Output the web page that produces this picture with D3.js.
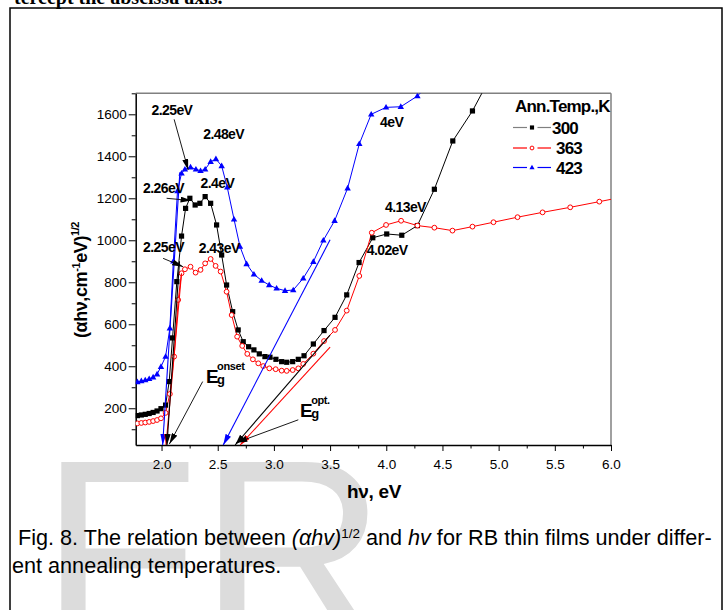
<!DOCTYPE html>
<html><head><meta charset="utf-8">
<script src="https://cdn.jsdelivr.net/npm/d3@7"></script>
<style>body{margin:0;background:#fff} svg{display:block}</style>
</head><body>
<svg id="c" width="726" height="610"></svg>
<script>
// ---------- data ----------
const hv300 = [1.785,1.82,1.855,1.89,1.925,1.96,1.995,2.036,2.068,2.098,2.136,2.178,2.214,2.252,2.299,2.341,2.388,2.437,2.49,2.535,2.579,2.633,2.682,2.727,2.775,2.822,2.87,2.92,2.965,3.018,3.069,3.114,3.167,3.217,3.268,3.351,3.446,3.544,3.648,3.758,3.88,4.004,4.138,4.277,4.428,4.592,4.767,4.94,5.10];
const val300 = [165,168,171,175,180,187,198,215,327,535,803,1020,1152,1200,1168,1176,1208,1176,1073,930,787,660,573,517,493,478,459,446,443,433,422,419,422,433,450,506,570,633,740,894,1012,1030,1024,1070,1243,1473,1616,1790,1960];
const hv363 = [1.785,1.82,1.855,1.89,1.925,1.96,1.995,2.036,2.074,2.112,2.148,2.178,2.208,2.258,2.303,2.347,2.388,2.437,2.481,2.526,2.579,2.624,2.673,2.718,2.763,2.813,2.861,2.905,2.959,3.016,3.069,3.114,3.167,3.217,3.261,3.351,3.446,3.544,3.648,3.76,3.871,3.998,4.132,4.277,4.428,4.589,4.767,4.954,5.168,5.391,5.637,5.896,6.16];
const val363 = [128,130,132,135,139,144,152,178,268,446,716,843,862,874,846,859,890,911,878,851,755,644,541,497,459,433,414,401,390,386,379,378,382,390,411,460,520,573,665,830,1036,1073,1093,1070,1060,1046,1065,1086,1110,1133,1157,1184,1212];
const hv423 = [1.785,1.82,1.855,1.89,1.925,1.96,1.995,2.036,2.074,2.105,2.142,2.178,2.208,2.258,2.306,2.347,2.388,2.437,2.484,2.535,2.585,2.645,2.698,2.757,2.822,2.891,2.958,3.024,3.099,3.172,3.261,3.351,3.44,3.54,3.656,3.76,3.866,3.998,4.129,4.277,4.43];
const val423 = [325,330,334,340,348,362,398,446,581,900,1235,1319,1338,1348,1338,1331,1338,1374,1387,1354,1252,1100,970,887,838,808,787,771,760,763,819,898,1000,1093,1248,1459,1600,1633,1636,1687,1770];

const seriesNames = ["300","363","423"];
const xTickValues = [2.0,2.5,3.0,3.5,4.0,4.5,5.0,5.5,6.0];
const xMinorValues = [2.25,2.75,3.25,3.75,4.25,4.75,5.25,5.75];
const yTickValues = [200,400,600,800,1000,1200,1400,1600];
const yMinorValues = [100,300,500,700,900,1100,1300,1500,1700];

// extrapolation (tangent) lines, in data units
const tangentSeries = ["423","363","300","423","300","363"];
const tangentFromHv  = [2.163, 2.178, 2.16, 3.50, 3.50, 3.50];
const tangentFromVal = [1324, 843, 900, 1002, 548, 491];
const tangentToHv    = [2.01, 2.04, 2.048, 2.549, 2.655, 2.70];
const tangentToVal   = [25, 25, 25, 25, 25, 25];

// annotation pointers
const annFromHv  = [2.112, 2.045, 2.014, 2.366, 3.217];
const annFromVal = [1576, 1200, 914, 327, 145];
const annToHv    = [2.237, 2.267, 2.192, 2.07, 2.665];
const annToVal   = [1335, 1189, 874, 30, 36];

const peakLabels   = ["2.25eV","2.48eV","2.26eV","2.4eV","2.25eV","2.43eV","4eV","4.13eV","4.02eV"];
const peakLabelHv  = [1.911, 2.371, 1.836, 2.347, 1.836, 2.332, 3.945, 3.989, 3.826];
const peakLabelVal = [1597, 1482, 1224, 1248, 946, 938, 1538, 1136, 930];

// ---------- layout ----------
const svg = d3.select("#c");
const FONT = "'Liberation Sans', Arial, Helvetica, sans-serif";
const pLeft = 135.7, pRight = 611, pTop = 93.3, pBottom = 445;
const x = d3.scaleLinear().domain([1.77, 6.0]).range([pLeft, pRight]);
const y = d3.scaleLinear().domain([25, 1700]).range([pBottom, pTop]);
const colors = {"300":"#000000","363":"#ff0000","423":"#0000ff"};

svg.append("rect").attr("width",726).attr("height",610).attr("fill","#fff");

// watermark
svg.append("text").attr("x",40).attr("y",641).attr("font-family",FONT)
  .attr("font-size",260).attr("fill","#dcdcdc").text("FR");

// top running text (cut)
svg.append("text").attr("x",14).attr("y",4).attr("font-family","'Liberation Serif','Times New Roman',serif")
  .attr("font-weight","bold").attr("font-size",20).attr("fill","#000").text("tercept the abscissa axis.");

// document border
svg.append("rect").attr("x",10).attr("y",8).attr("width",712).attr("height",640)
  .attr("fill","none").attr("stroke","#000").attr("stroke-width",1.5);

// defs: clip & arrow markers
const defs = svg.append("defs");
defs.append("clipPath").attr("id","plotclip").append("rect")
  .attr("x",pLeft).attr("y",pTop).attr("width",pRight-pLeft).attr("height",pBottom-pTop);
function arrowMarker(id, col){
  defs.append("marker").attr("id",id).attr("markerUnits","userSpaceOnUse")
    .attr("viewBox","0 0 11 6").attr("refX",11).attr("refY",3)
    .attr("markerWidth",11).attr("markerHeight",6).attr("orient","auto")
    .append("path").attr("d","M0,0 L11,3 L0,6 Z").attr("fill",col);
}
arrowMarker("arr300","#000"); arrowMarker("arr363","#ff0000"); arrowMarker("arr423","#0000ff");
arrowMarker("arrAnn","#000");

// frame top/right (gray)
svg.append("line").attr("x1",pLeft).attr("x2",pRight).attr("y1",pTop).attr("y2",pTop).attr("stroke","#808080").attr("stroke-width",1.5);
svg.append("line").attr("x1",pRight).attr("x2",pRight).attr("y1",pTop).attr("y2",pBottom).attr("stroke","#808080").attr("stroke-width",1.5);

// axes
function styleAxis(g){
  g.selectAll("path.domain").attr("stroke","#000").attr("stroke-width",1.5);
  g.selectAll(".tick line").attr("stroke","#000").attr("stroke-width",1);
  g.selectAll(".tick text").attr("font-family",FONT).attr("font-size",13.5).attr("fill","#000");
}
const gx = svg.append("g").attr("transform",`translate(0,${pBottom})`)
  .call(d3.axisBottom(x).tickValues(xTickValues).tickSize(6).tickPadding(8).tickFormat(d3.format(".1f")).tickSizeOuter(0));
styleAxis(gx);
const gxm = svg.append("g").attr("transform",`translate(0,${pBottom})`)
  .call(d3.axisBottom(x).tickValues(xMinorValues).tickSize(3.5).tickFormat(""));
gxm.select("path.domain").remove(); gxm.selectAll(".tick text").remove(); styleAxis(gxm);
const gy = svg.append("g").attr("transform",`translate(${pLeft},0)`)
  .call(d3.axisLeft(y).tickValues(yTickValues).tickSize(7).tickPadding(2).tickFormat(d3.format("d")).tickSizeOuter(0));
styleAxis(gy);
const gym = svg.append("g").attr("transform",`translate(${pLeft},0)`)
  .call(d3.axisLeft(y).tickValues(yMinorValues).tickSize(4).tickFormat(""));
gym.select("path.domain").remove(); gym.selectAll(".tick text").remove(); styleAxis(gym);

// axis titles
svg.append("text").attr("x",374).attr("y",498).attr("text-anchor","middle").attr("font-family",FONT)
  .attr("font-weight","bold").attr("font-size",19).attr("letter-spacing",-0.3).text("hν, eV");
const yl = svg.append("text").attr("transform","translate(87,280) rotate(-90)").attr("text-anchor","middle")
  .attr("font-family",FONT).attr("font-weight","bold").attr("font-size",18).attr("letter-spacing",-0.4);
yl.append("tspan").text("(αhν,cm");
yl.append("tspan").attr("font-size",11).attr("dy",-7).text("-1");
yl.append("tspan").attr("dy",7).text("eV)");
yl.append("tspan").attr("font-size",11).attr("dy",-8).text("1/2");

// plot content
const plot = svg.append("g").attr("clip-path","url(#plotclip)");
const line = d3.line().x(d=>x(d[0])).y(d=>y(d[1]));
const seriesData = {
  "300": hv300.map((h,i)=>[h,val300[i]]),
  "363": hv363.map((h,i)=>[h,val363[i]]),
  "423": hv423.map((h,i)=>[h,val423[i]])
};

// tangent lines
tangentSeries.forEach((s,i)=>{
  svg.append("line")
    .attr("x1",x(tangentFromHv[i])).attr("y1",y(tangentFromVal[i]))
    .attr("x2",x(tangentToHv[i])).attr("y2",y(tangentToVal[i]))
    .attr("stroke",colors[s]).attr("stroke-width",1.1)
    .attr("marker-end",`url(#arr${s})`);
});

function drawMarker(g, s, cx, cy, scale){
  const k = scale||1;
  if(s==="300"){
    g.append("rect").attr("x",cx-2.6*k).attr("y",cy-2.6*k).attr("width",5.2*k).attr("height",5.2*k).attr("fill","#000");
  } else if(s==="363"){
    g.append("circle").attr("cx",cx).attr("cy",cy).attr("r",2.4*k).attr("fill","#fff").attr("stroke","#ff0000").attr("stroke-width",1);
  } else {
    const r = 3.4*k;
    g.append("path").attr("d",`M${cx},${cy-r} L${cx+r*0.95},${cy+r*0.65} L${cx-r*0.95},${cy+r*0.65} Z`).attr("fill","#0000ff");
  }
}

seriesNames.forEach(s=>{
  plot.append("path").datum(seriesData[s]).attr("d",line).attr("fill","none")
    .attr("stroke",colors[s]).attr("stroke-width",1);
});
seriesNames.forEach(s=>{
  const g = plot.append("g");
  seriesData[s].forEach(d=>drawMarker(g,s,x(d[0]),y(d[1])));
});

// annotation pointers
annFromHv.forEach((h,i)=>{
  svg.append("line").attr("x1",x(h)).attr("y1",y(annFromVal[i]))
    .attr("x2",x(annToHv[i])).attr("y2",y(annToVal[i]))
    .attr("stroke","#000").attr("stroke-width",0.9).attr("marker-end","url(#arrAnn)");
});

// peak labels
peakLabels.forEach((t,i)=>{
  svg.append("text").attr("x",x(peakLabelHv[i])).attr("y",y(peakLabelVal[i]))
    .attr("font-family",FONT).attr("font-weight","bold").attr("font-size",14)
    .attr("letter-spacing",-0.6).attr("fill","#000").text(t);
});

// E_g labels
function egLabel(hv, val, sup){
  const px = x(hv), py = y(val);
  const e = svg.append("text").attr("x",px).attr("y",py).attr("font-family",FONT).attr("font-weight","bold")
    .attr("font-size",19).attr("letter-spacing",-0.5).text("E");
  const w = e.node().getComputedTextLength();
  svg.append("text").attr("x",px+w-1).attr("y",py-13).attr("font-family",FONT).attr("font-weight","bold")
    .attr("font-size",11).attr("letter-spacing",-0.4).text(sup);
  svg.append("text").attr("x",px+w-1).attr("y",py+1).attr("font-family",FONT).attr("font-weight","bold")
    .attr("font-size",13).text("g");
}
egLabel(2.395, 319, "onset");
egLabel(3.232, 160, "opt.");

// legend
const lg = svg.append("g").attr("font-family",FONT).attr("font-weight","bold");
lg.append("text").attr("x",515).attr("y",112).attr("font-size",17).attr("letter-spacing",-0.8).text("Ann.Temp.,K");
const legY = [127.5, 148, 167.5];
const legTextX = [552, 556, 556];
const legLineCol = {"300":"#808080","363":"#ff0000","423":"#0000ff"};
seriesNames.forEach((s,i)=>{
  const yy = legY[i];
  lg.append("line").attr("x1",513).attr("x2",527).attr("y1",yy).attr("y2",yy).attr("stroke",legLineCol[s]).attr("stroke-width",1.2);
  lg.append("line").attr("x1",537.5).attr("x2",551).attr("y1",yy).attr("y2",yy).attr("stroke",legLineCol[s]).attr("stroke-width",1.2);
  drawMarker(lg, s, 532, yy, 0.8);
  lg.append("text").attr("x",legTextX[i]).attr("y",yy+6).attr("font-size",17).attr("letter-spacing",-0.8).text(s);
});

// caption
const cap1 = svg.append("text").attr("x",18).attr("y",545).attr("font-family",FONT).attr("font-size",17).attr("fill","#000");
cap1.append("tspan").text("Fig. 8. The relation between ");
cap1.append("tspan").attr("font-style","italic").text("(αhv)");
cap1.append("tspan").attr("font-size","62%").attr("dy","-0.55em").text("1/2");
cap1.append("tspan").attr("dy","0.34em").text(" and ");
cap1.append("tspan").attr("font-style","italic").text("hv");
cap1.append("tspan").text(" for RB thin films under differ-");
const w1 = cap1.node().getComputedTextLength();
const fs = 17*694/w1;
cap1.attr("font-size",fs);
svg.append("text").attr("x",12).attr("y",573).attr("font-family",FONT).attr("font-size",fs).attr("fill","#000")
  .text("ent annealing temperatures.");
</script>
</body></html>
